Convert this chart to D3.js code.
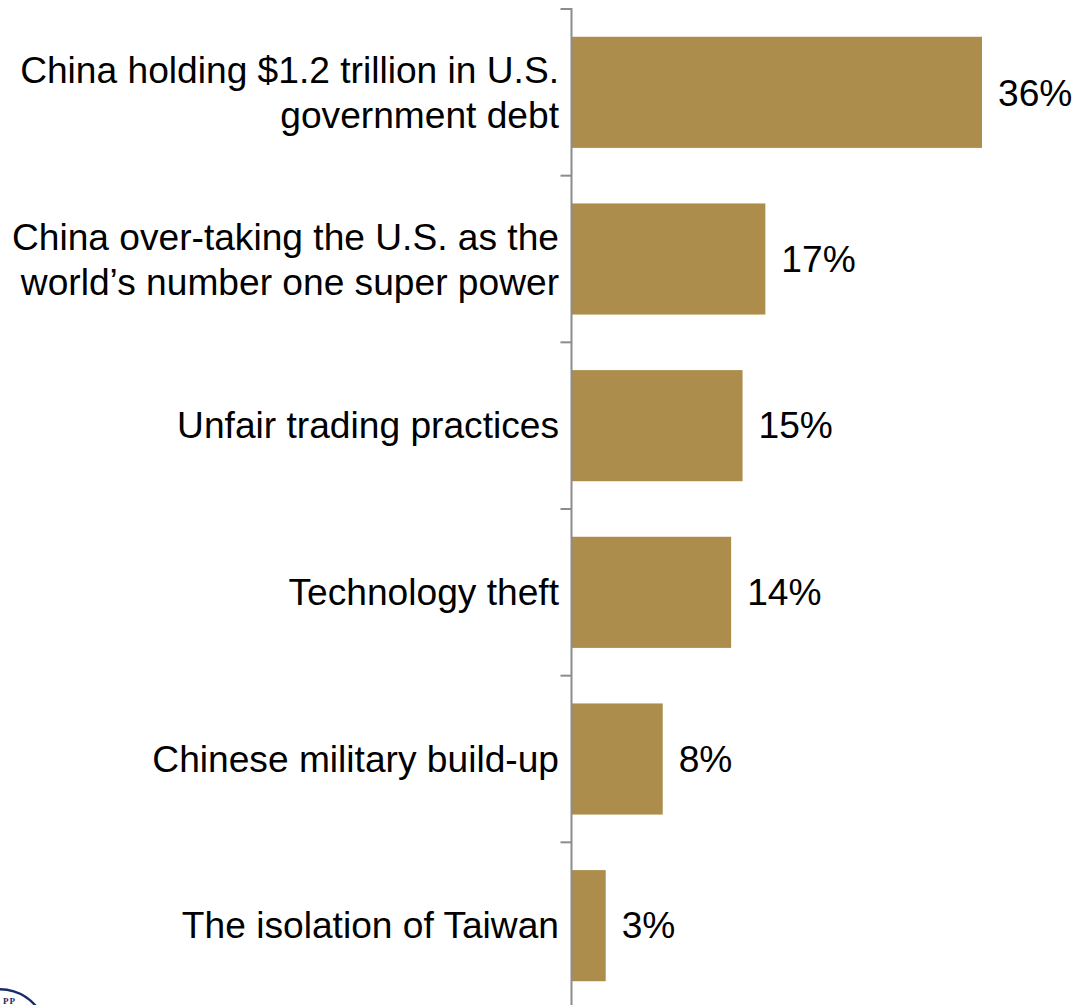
<!DOCTYPE html>
<html><head><meta charset="utf-8"><style>html,body{margin:0;background:#fff}svg{display:block}</style>
<script src="https://cdn.jsdelivr.net/npm/d3@7"></script></head><body><svg id="c" width="1074" height="1005"></svg>
<script>
const categories=[["China holding $1.2 trillion in U.S.","government debt"],["China over-taking the U.S. as the","world’s number one super power"],["Unfair trading practices"],["Technology theft"],["Chinese military build-up"],["The isolation of Taiwan"]];
const values=[36,17,15,14,8,3];
const svg=d3.select("#c");
const x=d3.scaleLinear().domain([0,36]).range([571.5,982]);
const y=d3.scaleBand().domain(d3.range(6)).range([9,1009]).paddingInner(1/3).paddingOuter(1/6);
const font="Liberation Sans, Arial, sans-serif";
const fs=37.15;
svg.selectAll("rect").data(values).join("rect").attr("x",x(0)).attr("y",(d,i)=>y(i)).attr("width",d=>x(d)-x(0)).attr("height",y.bandwidth()).attr("fill","#AC8D4B");
const step=y.step();
const ax=svg.append("g").attr("stroke","#8c8c8c").attr("stroke-width",2);
ax.append("line").attr("x1",x(0)).attr("x2",x(0)).attr("y1",8).attr("y2",1005);
d3.range(7).forEach(i=>ax.append("line").attr("x1",x(0)-11).attr("x2",x(0)).attr("y1",9+i*step).attr("y2",9+i*step));
categories.forEach((c,i)=>{const cy=y(i)+y.bandwidth()/2;
 const t=svg.append("text").attr("text-anchor","end").attr("font-family",font).attr("font-size",fs).attr("fill","#000");
 const off=c.length>1?13.3:12.5;
 c.forEach((l,j)=>t.append("tspan").attr("x",559).attr("y",cy+off+(j-(c.length-1)/2)*45).text(l));
 svg.append("text").attr("x",x(values[i])+16).attr("y",cy+(i==0?13.3:12.5)).attr("font-family",font).attr("font-size",fs).attr("fill","#000").text(values[i]+"%");
});
const logo=svg.append("g").attr("fill","#1b2a6b");
logo.append("path").attr("d",d3.arc()({innerRadius:45.5,outerRadius:48,startAngle:-0.3,endAngle:0.9})).attr("transform","translate(0,1036)");
logo.append("text").attr("x",3).attr("y",1004).attr("font-family","Liberation Serif, serif").attr("font-weight","bold").attr("font-size",9).attr("letter-spacing",1).text("PP");
</script></body></html>
